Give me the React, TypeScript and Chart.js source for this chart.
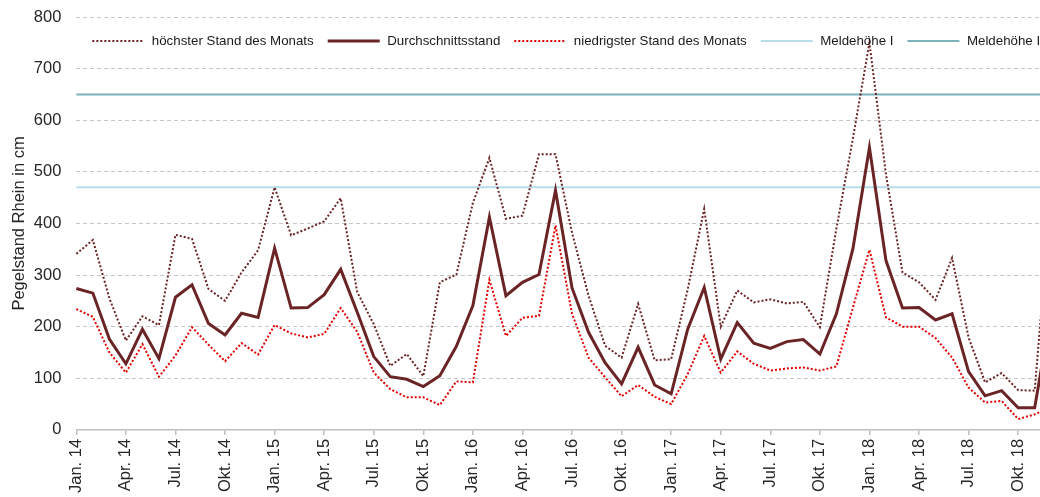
import React, { useEffect, useRef } from 'react';
import { Chart, registerables } from 'chart.js';

Chart.register(...registerables);

const CATEGORIES = [
  'Jan. 14', 'Feb. 14', 'Mrz. 14', 'Apr. 14', 'Mai 14', 'Jun. 14', 'Jul. 14', 'Aug. 14', 'Sep. 14', 'Okt. 14', 'Nov. 14', 'Dez. 14',
  'Jan. 15', 'Feb. 15', 'Mrz. 15', 'Apr. 15', 'Mai 15', 'Jun. 15', 'Jul. 15', 'Aug. 15', 'Sep. 15', 'Okt. 15', 'Nov. 15', 'Dez. 15',
  'Jan. 16', 'Feb. 16', 'Mrz. 16', 'Apr. 16', 'Mai 16', 'Jun. 16', 'Jul. 16', 'Aug. 16', 'Sep. 16', 'Okt. 16', 'Nov. 16', 'Dez. 16',
  'Jan. 17', 'Feb. 17', 'Mrz. 17', 'Apr. 17', 'Mai 17', 'Jun. 17', 'Jul. 17', 'Aug. 17', 'Sep. 17', 'Okt. 17', 'Nov. 17', 'Dez. 17',
  'Jan. 18', 'Feb. 18', 'Mrz. 18', 'Apr. 18', 'Mai 18', 'Jun. 18', 'Jul. 18', 'Aug. 18', 'Sep. 18', 'Okt. 18', 'Nov. 18', 'Dez. 18',
];

const SHOWN_TICKS = [
  'Jan. 14', 'Apr. 14', 'Jul. 14', 'Okt. 14',
  'Jan. 15', 'Apr. 15', 'Jul. 15', 'Okt. 15',
  'Jan. 16', 'Apr. 16', 'Jul. 16', 'Okt. 16',
  'Jan. 17', 'Apr. 17', 'Jul. 17', 'Okt. 17',
  'Jan. 18', 'Apr. 18', 'Jul. 18', 'Okt. 18',
];

const MAX_LEVEL = [
  341, 368, 255, 173, 220, 203, 378, 370, 273, 250, 305, 348,
  470, 377, 390, 404, 449, 267, 205, 124, 147, 104, 286, 301,
  440, 527, 409, 415, 534, 534, 382, 260, 163, 140, 244, 135,
  137, 272, 428, 200, 270, 247, 253, 245, 248, 199, 390, 565,
  750, 495, 305, 286, 252, 333, 179, 92, 110, 77, 76, 460,
];

const AVG_LEVEL = [
  274, 265, 176, 128, 195, 138, 257, 281, 206, 184, 226, 218,
  352, 236, 237, 262, 311, 228, 142, 103, 98, 84, 105, 162,
  241, 412, 260, 286, 301, 464, 275, 189, 130, 89, 160, 87,
  70, 195, 276, 137, 208, 168, 158, 171, 175, 147, 225, 351,
  547, 328, 236, 237, 213, 225, 113, 66, 76, 43, 43, 230,
];

const MIN_LEVEL = [
  234, 219, 150, 111, 166, 103, 144, 199, 165, 133, 168, 146,
  203, 187, 179, 186, 236, 190, 111, 79, 63, 63, 48, 94,
  92, 291, 182, 217, 221, 396, 225, 140, 102, 65, 87, 64,
  50, 108, 182, 111, 152, 128, 115, 119, 121, 115, 123, 237,
  349, 218, 200, 200, 178, 140, 82, 53, 56, 21, 30, 45,
];

const MELDEHOEHE_I = 470;
const MELDEHOEHE_II = 650;

const Y_TICKS = [0, 100, 200, 300, 400, 500, 600, 700, 800];

const FONT_FAMILY = '"Liberation Sans", Arial, Helvetica, sans-serif';
const TEXT_COLOR = '#262626';

const insideLegend = {
  id: 'insideLegend',
  afterDraw(chart: any) {
    const ctx = chart.ctx;
    const area = chart.chartArea;
    ctx.save();
    ctx.font = `13.3px ${FONT_FAMILY}`;
    ctx.textBaseline = 'middle';
    ctx.textAlign = 'left';
    let x = area.left + 16;
    const y = area.top + 24;
    chart.data.datasets.forEach((ds: any) => {
      ctx.beginPath();
      ctx.setLineDash(ds.borderDash || []);
      ctx.lineWidth = ds.borderWidth;
      ctx.strokeStyle = ds.borderColor;
      ctx.moveTo(x, y);
      ctx.lineTo(x + 52, y);
      ctx.stroke();
      ctx.setLineDash([]);
      x += 52 + 7.5;
      ctx.fillStyle = '#1a1a1a';
      ctx.fillText(ds.label, x, y);
      x += ctx.measureText(ds.label).width + 14;
    });
    ctx.restore();
  },
};

export default function App() {
  const canvasRef = useRef<HTMLCanvasElement | null>(null);

  useEffect(() => {
    if (!canvasRef.current) return;
    Chart.defaults.font.family = FONT_FAMILY;
    const first = CATEGORIES[0];
    const last = CATEGORIES[CATEGORIES.length - 1];
    const chart = new Chart(canvasRef.current, {
      type: 'line',
      data: {
        labels: CATEGORIES,
        datasets: [
          {
            label: 'höchster Stand des Monats',
            data: MAX_LEVEL,
            borderColor: '#6b2426',
            borderWidth: 2,
            borderDash: [2, 2],
            pointRadius: 0,
            fill: false,
          },
          {
            label: 'Durchschnittsstand',
            data: AVG_LEVEL,
            borderColor: '#6b2426',
            borderWidth: 3,
            pointRadius: 0,
            fill: false,
          },
          {
            label: 'niedrigster Stand des Monats',
            data: MIN_LEVEL,
            borderColor: '#e00000',
            borderWidth: 2,
            borderDash: [2, 2],
            pointRadius: 0,
            fill: false,
          },
          {
            label: 'Meldehöhe I',
            data: [{ x: first, y: MELDEHOEHE_I }, { x: last, y: MELDEHOEHE_I }] as any,
            borderColor: '#b6dde8',
            borderWidth: 2,
            pointRadius: 0,
            fill: false,
          },
          {
            label: 'Meldehöhe II',
            data: [{ x: first, y: MELDEHOEHE_II }, { x: last, y: MELDEHOEHE_II }] as any,
            borderColor: '#7cb2bc',
            borderWidth: 2,
            pointRadius: 0,
            fill: false,
          },
        ],
      },
      options: {
        animation: false,
        responsive: false,
        maintainAspectRatio: false,
        layout: { padding: { left: 6, top: 17, right: 0, bottom: 0 } },
        elements: { line: { tension: 0 }, point: { radius: 0 } },
        plugins: {
          legend: { display: false },
          tooltip: { enabled: false },
        },
        scales: {
          x: {
            type: 'category',
            offset: false,
            grid: {
              drawOnChartArea: false,
              drawTicks: true,
              tickLength: 5,
              lineWidth: 1.5,
              color: (c: any) => (SHOWN_TICKS.includes(CATEGORIES[c.index]) ? '#bfbfbf' : 'rgba(0,0,0,0)'),
            },
            border: { display: true, color: '#bfbfbf', width: 1.5 },
            ticks: {
              autoSkip: false,
              maxRotation: 90,
              minRotation: 90,
              padding: 4,
              color: TEXT_COLOR,
              font: { size: 16.5, family: FONT_FAMILY },
              callback: (_v: any, i: number) => (SHOWN_TICKS.includes(CATEGORIES[i]) ? CATEGORIES[i] : ''),
            },
          },
          y: {
            min: Y_TICKS[0],
            max: Y_TICKS[Y_TICKS.length - 1],
            grid: {
              drawTicks: true,
              tickLength: 15,
              tickColor: 'rgba(0,0,0,0)',
              lineWidth: 1,
              color: (c: any) => (c.tick && c.tick.value === 0 ? 'rgba(0,0,0,0)' : '#c6c6c6'),
            },
            border: { display: false, dash: [4, 3] },
            ticks: {
              stepSize: 100,
              padding: 0,
              color: TEXT_COLOR,
              font: { size: 16.5, family: FONT_FAMILY },
            },
            title: {
              display: true,
              text: 'Pegelstand Rhein in cm',
              color: TEXT_COLOR,
              font: { size: 16.5, family: FONT_FAMILY },
              padding: { top: 4, bottom: 4 },
            },
          },
        },
      },
      plugins: [insideLegend],
    });
    return () => chart.destroy();
  }, []);

  return (
    <div
      style={{
        position: 'fixed',
        left: 0,
        top: 0,
        width: 1040,
        height: 497,
        overflow: 'hidden',
        background: '#ffffff',
      }}
    >
      <canvas ref={canvasRef} width={1075} height={497} style={{ display: 'block', width: 1075, height: 497 }} />
    </div>
  );
}
